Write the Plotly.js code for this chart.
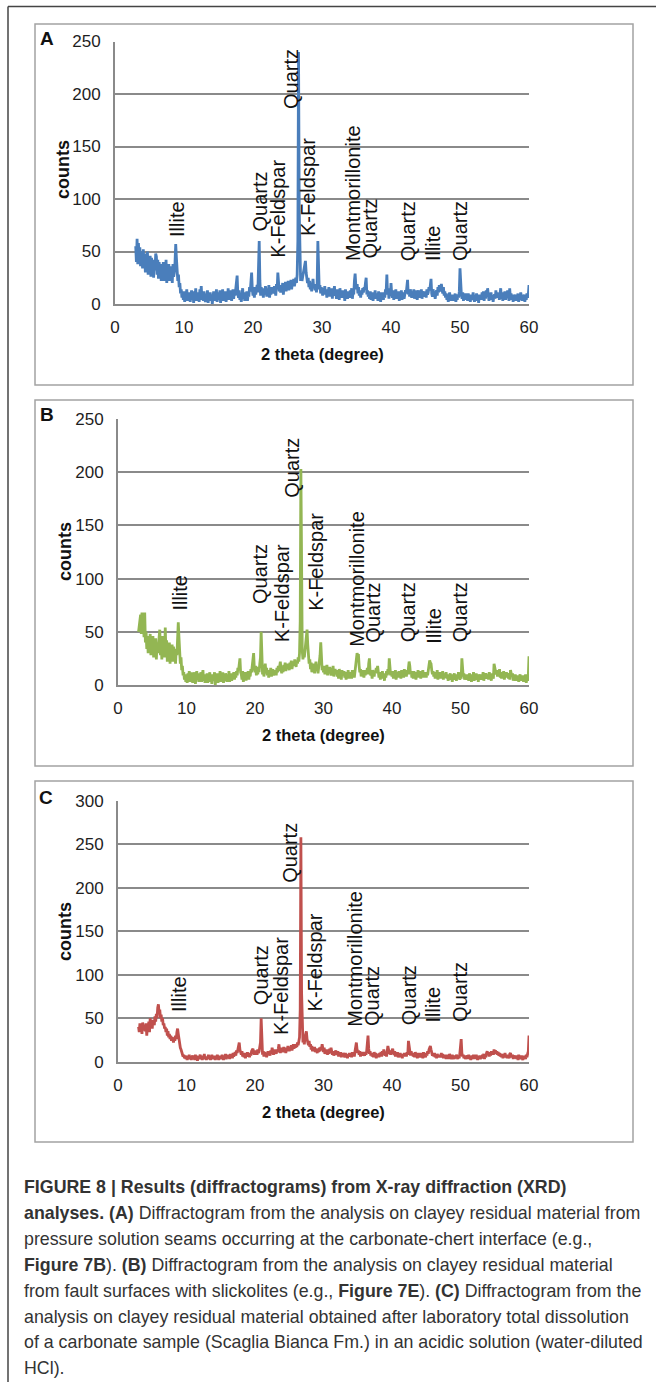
<!DOCTYPE html>
<html><head><meta charset="utf-8">
<script src="https://cdn.plot.ly/plotly-3.0.1.min.js"></script>
<style>html,body{margin:0;padding:0;background:#fff;} #chart{width:656px;height:1382px;}</style>
</head><body><div id="chart"></div>
<script>
// 2-theta grid (degrees), one row per degree
const twoTheta = [
3,3.1,3.2,3.3,3.4,3.5,3.6,3.7,3.8,3.9, 4,4.1,4.2,4.3,4.4,4.5,4.6,4.7,4.8,4.9,
5,5.1,5.2,5.3,5.4,5.5,5.6,5.7,5.8,5.9, 6,6.1,6.2,6.3,6.4,6.5,6.6,6.7,6.8,6.9,
7,7.1,7.2,7.3,7.4,7.5,7.6,7.7,7.8,7.9, 8,8.1,8.2,8.3,8.4,8.5,8.6,8.7,8.8,8.9,
9,9.1,9.2,9.3,9.4,9.5,9.6,9.7,9.8,9.9, 10,10.1,10.2,10.3,10.4,10.5,10.6,10.7,10.8,10.9,
11,11.1,11.2,11.3,11.4,11.5,11.6,11.7,11.8,11.9, 12,12.1,12.2,12.3,12.4,12.5,12.6,12.7,12.8,12.9,
13,13.1,13.2,13.3,13.4,13.5,13.6,13.7,13.8,13.9, 14,14.1,14.2,14.3,14.4,14.5,14.6,14.7,14.8,14.9,
15,15.1,15.2,15.3,15.4,15.5,15.6,15.7,15.8,15.9, 16,16.1,16.2,16.3,16.4,16.5,16.6,16.7,16.8,16.9,
17,17.1,17.2,17.3,17.4,17.5,17.6,17.7,17.8,17.9, 18,18.1,18.2,18.3,18.4,18.5,18.6,18.7,18.8,18.9,
19,19.1,19.2,19.3,19.4,19.5,19.6,19.7,19.8,19.9, 20,20.1,20.2,20.3,20.4,20.5,20.6,20.7,20.8,20.9,
21,21.1,21.2,21.3,21.4,21.5,21.6,21.7,21.8,21.9, 22,22.1,22.2,22.3,22.4,22.5,22.6,22.7,22.8,22.9,
23,23.1,23.2,23.3,23.4,23.5,23.6,23.7,23.8,23.9, 24,24.1,24.2,24.3,24.4,24.5,24.6,24.7,24.8,24.9,
25,25.1,25.2,25.3,25.4,25.5,25.6,25.7,25.8,25.9, 26,26.1,26.2,26.3,26.4,26.5,26.6,26.7,26.8,26.9,
27,27.1,27.2,27.3,27.4,27.5,27.6,27.7,27.8,27.9, 28,28.1,28.2,28.3,28.4,28.5,28.6,28.7,28.8,28.9,
29,29.1,29.2,29.3,29.4,29.5,29.6,29.7,29.8,29.9, 30,30.1,30.2,30.3,30.4,30.5,30.6,30.7,30.8,30.9,
31,31.1,31.2,31.3,31.4,31.5,31.6,31.7,31.8,31.9, 32,32.1,32.2,32.3,32.4,32.5,32.6,32.7,32.8,32.9,
33,33.1,33.2,33.3,33.4,33.5,33.6,33.7,33.8,33.9, 34,34.1,34.2,34.3,34.4,34.5,34.6,34.7,34.8,34.9,
35,35.1,35.2,35.3,35.4,35.5,35.6,35.7,35.8,35.9, 36,36.1,36.2,36.3,36.4,36.5,36.6,36.7,36.8,36.9,
37,37.1,37.2,37.3,37.4,37.5,37.6,37.7,37.8,37.9, 38,38.1,38.2,38.3,38.4,38.5,38.6,38.7,38.8,38.9,
39,39.1,39.2,39.3,39.4,39.5,39.6,39.7,39.8,39.9, 40,40.1,40.2,40.3,40.4,40.5,40.6,40.7,40.8,40.9,
41,41.1,41.2,41.3,41.4,41.5,41.6,41.7,41.8,41.9, 42,42.1,42.2,42.3,42.4,42.5,42.6,42.7,42.8,42.9,
43,43.1,43.2,43.3,43.4,43.5,43.6,43.7,43.8,43.9, 44,44.1,44.2,44.3,44.4,44.5,44.6,44.7,44.8,44.9,
45,45.1,45.2,45.3,45.4,45.5,45.6,45.7,45.8,45.9, 46,46.1,46.2,46.3,46.4,46.5,46.6,46.7,46.8,46.9,
47,47.1,47.2,47.3,47.4,47.5,47.6,47.7,47.8,47.9, 48,48.1,48.2,48.3,48.4,48.5,48.6,48.7,48.8,48.9,
49,49.1,49.2,49.3,49.4,49.5,49.6,49.7,49.8,49.9, 50,50.1,50.2,50.3,50.4,50.5,50.6,50.7,50.8,50.9,
51,51.1,51.2,51.3,51.4,51.5,51.6,51.7,51.8,51.9, 52,52.1,52.2,52.3,52.4,52.5,52.6,52.7,52.8,52.9,
53,53.1,53.2,53.3,53.4,53.5,53.6,53.7,53.8,53.9, 54,54.1,54.2,54.3,54.4,54.5,54.6,54.7,54.8,54.9,
55,55.1,55.2,55.3,55.4,55.5,55.6,55.7,55.8,55.9, 56,56.1,56.2,56.3,56.4,56.5,56.6,56.7,56.8,56.9,
57,57.1,57.2,57.3,57.4,57.5,57.6,57.7,57.8,57.9, 58,58.1,58.2,58.3,58.4,58.5,58.6,58.7,58.8,58.9,
59,59.1,59.2,59.3,59.4,59.5,59.6,59.7,59.8,59.9, 60];

// Panel A counts (one row per degree, 3..59, then 60)
const countsA = [
55,40,62,38,58,42,54,36,50,44, 34,52,38,48,30,46,35,50,28,42,
30,46,26,44,34,40,25,42,32,48, 45,28,42,24,40,30,38,22,36,28,
40,22,36,26,42,20,34,28,38,22, 36,24,32,20,38,26,30,40,57,44,
34,22,28,16,20,10,14,6,12,4, 10,2,12,6,14,3,9,5,11,2,
8,13,4,10,1,12,6,15,3,9, 5,11,2,14,7,17,4,10,3,12,
6,2,10,4,13,1,8,5,11,3, 9,0,7,12,3,10,5,14,2,8,
11,4,13,1,9,6,14,3,10,5, 12,2,8,5,15,4,11,7,13,3,
9,14,5,12,8,16,18,27,10,6, 13,4,10,2,8,15,5,11,3,9,
6,12,3,10,7,16,12,18,30,14, 8,12,6,16,9,14,18,11,28,60,
22,8,16,10,13,6,15,9,17,11, 7,14,10,18,6,13,9,16,11,15,
10,17,12,8,19,14,30,20,12,16, 11,18,13,20,9,17,14,21,12,19,
15,22,13,19,16,23,14,20,18,24, 17,21,25,20,28,60,240,90,30,22,
28,22,26,30,34,40,41,30,24,20, 25,16,22,14,20,12,18,24,15,19,
13,17,11,20,60,25,14,18,10,16, 12,8,15,10,17,9,14,6,13,11,
16,7,12,9,15,5,13,10,17,8, 11,5,14,8,12,4,15,9,10,6,
13,7,11,3,14,8,10,5,12,9, 6,13,8,15,5,11,9,22,29,18,
14,19,10,16,8,13,6,12,9,15, 11,16,14,20,25,9,13,7,10,5,
12,4,9,11,3,10,6,13,5,8, 10,3,12,6,9,2,11,5,8,4,
11,6,14,12,28,9,15,5,13,8, 20,10,6,13,4,11,8,14,5,10,
6,12,3,10,7,13,4,9,11,5, 8,13,10,15,23,9,12,7,14,10,
6,12,8,14,5,11,9,13,4,10, 13,6,11,8,14,5,12,9,10,7,
12,6,14,9,11,16,13,18,24,10, 7,14,9,12,5,10,13,8,16,11,
18,12,17,19,14,10,16,8,12,6, 10,4,9,2,8,11,3,7,5,9,
3,8,5,10,2,7,4,9,6,12, 34,18,9,5,11,3,8,6,10,4,
8,3,10,5,7,2,9,6,4,11, 5,2,8,4,10,3,7,1,9,5,
8,4,11,6,12,3,9,5,13,7, 15,10,3,9,6,11,4,8,2,7,
9,5,13,6,11,7,10,4,12,15, 5,10,3,11,7,12,4,9,6,13,
8,3,15,6,10,4,9,2,7,5, 9,3,8,5,10,2,7,4,11,6,
3,8,5,9,2,7,4,10,6,9, 18];

// Panel B counts
const countsB = [
50,55,60,66,48,68,52,58,45,68, 40,50,34,46,30,44,38,48,28,42,
32,46,26,42,36,44,24,40,30,38, 44,52,28,40,24,46,30,36,26,54,
30,42,22,36,28,40,20,34,24,38, 22,36,26,32,20,34,28,40,59,45,
30,20,26,14,18,9,12,5,10,3, 8,2,11,5,13,3,9,6,12,2,
9,4,12,1,8,13,5,10,3,11, 6,12,3,9,14,4,10,2,8,5,
11,2,9,5,12,3,8,1,10,4, 7,12,0,9,4,11,2,8,5,13,
3,10,6,12,2,9,4,11,7,3, 10,5,13,3,8,11,4,9,6,12,
5,10,7,13,9,16,14,20,25,12, 10,5,13,3,9,6,12,4,11,7,
13,5,10,8,15,12,20,26,30,16, 12,18,9,15,10,17,12,20,26,50,
18,10,15,8,14,20,11,16,9,13, 7,14,10,16,8,12,15,9,13,11,
14,9,16,12,18,13,20,22,15,11, 17,12,19,14,21,13,18,15,20,16,
14,21,17,23,15,19,22,18,24,20, 17,23,20,26,22,30,60,203,70,32,
24,30,26,34,40,48,52,38,26,20, 24,15,21,12,18,14,20,11,17,22,
13,18,11,16,20,28,40,22,14,17, 12,18,10,16,13,19,9,15,12,17,
14,9,16,11,18,8,13,15,10,14, 8,13,6,15,10,12,5,14,9,11,
13,7,11,5,12,9,14,6,10,8, 12,6,14,9,11,7,13,16,25,30,
28,29,18,12,15,8,13,10,14,7, 12,9,14,11,16,10,20,25,13,9,
12,6,14,10,8,13,11,16,12,18, 10,7,12,5,11,8,13,6,10,4,
11,7,13,9,15,10,25,18,9,12, 8,13,6,11,9,14,5,10,12,7,
13,8,11,6,14,10,12,7,15,9, 12,8,14,10,16,22,18,10,13,7,
11,6,13,8,10,5,12,9,14,7, 10,13,6,11,8,14,7,12,9,11,
7,12,9,15,22,23,21,20,14,10, 13,8,11,6,12,9,14,5,10,8,
12,6,10,8,13,5,11,7,9,12, 6,10,4,9,7,11,5,8,3,10,
7,11,5,9,4,10,6,12,8,5, 9,6,25,14,8,11,5,9,7,10,
5,9,4,11,7,10,3,8,6,12, 4,9,6,11,5,8,3,10,7,9,
5,10,7,12,4,9,6,11,8,6, 10,5,12,7,9,4,11,8,6,20,
16,13,10,14,8,12,9,15,7,11, 6,12,8,13,5,10,7,12,9,11,
6,10,5,14,12,8,11,4,9,7, 10,4,8,5,9,3,7,10,4,8,
6,9,3,8,5,10,2,7,4,9, 27];

// Panel C counts
const countsC = [
40,34,44,36,42,32,45,38,36,40, 35,44,30,42,38,46,34,50,40,44,
38,48,45,42,52,46,55,50,62,66, 56,60,50,54,46,50,42,44,38,40,
34,38,30,35,28,32,26,30,24,28, 26,22,28,24,30,26,34,38,32,24,
22,16,14,10,9,6,8,4,7,3, 6,2,7,4,8,3,6,2,5,7,
3,6,2,8,4,7,1,5,3,6, 8,3,6,2,7,4,9,3,5,2,
6,3,8,4,7,2,5,8,3,6, 4,7,2,6,3,8,5,2,7,4,
6,3,8,5,2,7,4,9,3,6, 8,4,7,3,9,5,8,4,10,6,
8,11,7,13,10,16,20,22,14,10, 8,12,6,9,5,10,4,8,6,11,
6,9,5,10,7,12,14,15,11,8, 13,9,12,8,14,10,12,16,22,50,
16,8,12,6,11,7,10,5,9,12, 8,11,7,13,9,16,12,8,14,10,
12,9,14,11,15,20,13,10,16,12, 14,11,17,13,15,10,16,12,18,14,
12,17,14,19,13,16,20,15,18,16, 20,17,22,19,24,28,60,258,80,28,
22,26,20,28,34,35,26,22,19,24, 17,20,14,18,12,16,13,17,11,15,
13,10,15,11,16,12,17,14,20,15, 11,16,9,13,10,14,8,12,9,15,
11,16,13,8,12,7,11,9,13,8, 9,12,6,10,7,11,5,9,6,10,
8,5,10,6,9,4,8,6,10,7, 9,5,11,7,10,6,12,16,22,14,
10,13,8,12,6,10,7,11,8,9, 7,11,8,12,18,30,15,9,12,7,
10,6,9,5,11,7,10,4,8,6, 9,5,10,7,11,6,12,8,14,10,
7,11,6,12,18,14,9,13,8,11, 14,15,10,8,12,6,10,7,11,5,
8,6,10,5,9,4,8,6,10,7, 9,6,11,8,24,16,10,7,12,8,
10,6,9,5,11,7,8,4,10,6, 8,5,10,7,9,4,11,6,8,5,
10,7,12,9,14,16,18,14,10,7, 9,6,10,5,8,4,9,6,7,5,
8,5,10,6,9,4,7,5,8,3, 7,4,8,3,9,5,6,3,8,4,
6,3,7,4,8,5,3,7,4,9, 18,26,10,6,8,4,7,3,6,5,
7,3,8,4,6,2,7,5,3,8, 4,7,3,8,5,2,6,4,7,3,
6,4,8,5,9,3,7,5,10,12, 8,11,6,10,7,12,9,11,8,14,
10,13,9,12,8,11,7,10,6,9, 5,8,4,9,6,10,5,7,4,8,
6,4,9,10,7,5,8,3,7,5, 4,7,3,6,2,8,4,6,3,7,
5,2,7,4,6,3,8,5,9,12, 30];

// Phase labels (x = 2theta, y = counts at the start of the rotated text)
const phaseNames = ["Illite","Quartz","K-Feldspar","Quartz","K-Feldspar","Montmorillonite","Quartz","Quartz","Illite","Quartz"];
const labelXA = [9.0, 21.0, 23.6, 25.4, 28.0, 34.5, 36.9, 42.5, 46.1, 50.0];
const labelYA = [63, 68, 43, 185, 64, 40, 42, 40, 40, 40];
const labelXB = [9.05, 20.7, 23.9, 25.4, 28.8, 34.9, 37.1, 42.3, 46.0, 49.9];
const labelYB = [69, 75, 39, 175, 69, 35, 39, 39, 38, 39];
const labelXC = [8.9, 20.9, 23.7, 25.2, 28.8, 34.6, 37.1, 42.5, 46.0, 50.0];
const labelYC = [56, 64, 30, 204, 57, 39, 40, 41, 44, 44];

const panelLetters = ["A","B","C"];
const yMaxes = [250, 250, 300];
const xTitle = "2 theta (degree)";
const yTitle = "counts";
const captionLines = [
 "<b>FIGURE 8 | Results (diffractograms) from X-ray diffraction (XRD)</b>",
 "<b>analyses. (A)</b> Diffractogram from the analysis on clayey residual material from",
 "pressure solution seams occurring at the carbonate-chert interface (e.g.,",
 "<b>Figure 7B</b>). <b>(B)</b> Diffractogram from the analysis on clayey residual material",
 "from fault surfaces with slickolites (e.g., <b>Figure 7E</b>). <b>(C)</b> Diffractogram from the",
 "analysis on clayey residual material obtained after laboratory total dissolution",
 "of a carbonate sample (Scaglia Bianca Fm.) in an acidic solution (water-diluted",
 "HCl)."
];

const W = 656, H = 1382;
const px = p => p / W;
const py = p => 1 - p / H;
const FONT = "Liberation Sans, Arial, Helvetica, sans-serif";
const GRID = "#8a8a8a";

const plotPx = [
  {x0:115, x1:529, y0:41.5, y1:304},
  {x0:118, x1:529, y0:419, y1:685},
  {x0:118, x1:529, y0:800.7, y1:1061.7}
];
const boxPx = [
  {x0:35, x1:633, y0:24, y1:385},
  {x0:35, x1:633, y0:400, y1:766},
  {x0:35, x1:633, y0:781, y1:1142}
];
const letterPos = [{x:47,y:38.5},{x:47,y:414},{x:46,y:797}];
const countsPos = [{x:63,y:170},{x:65,y:552},{x:65,y:932}];

const series = [countsA, countsB, countsC];
const colors = ["#4a7ebb", "#93b653", "#c0504d"];
const labX = [labelXA, labelXB, labelXC];
const labY = [labelYA, labelYB, labelYC];

const data = [];
const layout = {
  width: W, height: H,
  margin: {l:0, r:0, t:0, b:0},
  paper_bgcolor: "#fff", plot_bgcolor: "rgba(0,0,0,0)",
  showlegend: false,
  annotations: [], shapes: []
};

for (let i = 0; i < 3; i++) {
  const sfx = i === 0 ? "" : String(i + 1);
  const p = plotPx[i];
  data.push({
    type: "scatter", mode: "lines",
    x: twoTheta, y: series[i],
    xaxis: "x" + sfx, yaxis: "y" + sfx,
    line: {color: colors[i], width: 2.8},
    hoverinfo: "skip"
  });
  layout["xaxis" + sfx] = {
    domain: [px(p.x0), px(p.x1)], anchor: "y" + sfx,
    range: [0, 60], dtick: 10, tick0: 0,
    showgrid: false, zeroline: false,
    showline: true, linecolor: GRID, linewidth: 2,
    ticks: "", ticklabelstandoff: 7,
    tickfont: {family: FONT, size: 17, color: "#1e1e1e"},
    fixedrange: true
  };
  layout["yaxis" + sfx] = {
    domain: [py(p.y1), py(p.y0)], anchor: "x" + sfx,
    range: [0, yMaxes[i]], dtick: 50, tick0: 0,
    showgrid: true, gridcolor: GRID, gridwidth: 2,
    zeroline: false, showline: true, linecolor: GRID, linewidth: 2,
    ticks: "", ticklabelstandoff: 9,
    tickfont: {family: FONT, size: 17, color: "#1e1e1e"},
    fixedrange: true
  };
  const b = boxPx[i];
  layout.shapes.push({type:"rect", xref:"paper", yref:"paper",
    x0: px(b.x0), x1: px(b.x1), y0: py(b.y1), y1: py(b.y0),
    line:{color:"#a3a3a3", width:1.5}, fillcolor:"rgba(0,0,0,0)", layer:"below"});
  layout.annotations.push({xref:"paper", yref:"paper", x: px(letterPos[i].x), y: py(letterPos[i].y),
    xanchor:"center", yanchor:"middle", showarrow:false,
    text:"<b>" + panelLetters[i] + "</b>", font:{family:FONT, size:19, color:"#111"}});
  layout.annotations.push({xref:"paper", yref:"paper", x: px(countsPos[i].x), y: py(countsPos[i].y),
    xanchor:"center", yanchor:"middle", showarrow:false, textangle:-90,
    text:"<b>" + yTitle + "</b>", font:{family:FONT, size:18, color:"#111"}});
  layout.annotations.push({xref:"paper", yref:"paper", x: px((p.x0 + p.x1) / 2), y: py(p.y1 + 50),
    xanchor:"center", yanchor:"middle", showarrow:false,
    text:"<b>" + xTitle + "</b>", font:{family:FONT, size:16.5, color:"#111"}});
  for (let k = 0; k < phaseNames.length; k++) {
    layout.annotations.push({xref:"x" + sfx, yref:"y" + sfx, x: labX[i][k], y: labY[i][k],
      xanchor:"center", yanchor:"bottom", showarrow:false, textangle:-90,
      text: phaseNames[k], font:{family:FONT, size:20, color:"#111"}, borderpad:0});
  }
}

layout.shapes.push({type:"line", xref:"paper", yref:"paper", x0:px(8), x1:px(656), y0:py(6.5), y1:py(6.5), line:{color:"#444", width:1.5}});
layout.shapes.push({type:"line", xref:"paper", yref:"paper", x0:px(8), x1:px(8), y0:py(6.5), y1:py(1382), line:{color:"#444", width:1.5}});

captionLines.forEach((t, k) => {
  layout.annotations.push({xref:"paper", yref:"paper", x: px(22), y: py(1187 + 25.9 * k),
    xanchor:"left", yanchor:"middle", showarrow:false, align:"left",
    text: t, font:{family:FONT, size:17.8, color:"#333"}});
});

Plotly.newPlot("chart", data, layout, {displayModeBar:false, staticPlot:true});
</script>
</body></html>
